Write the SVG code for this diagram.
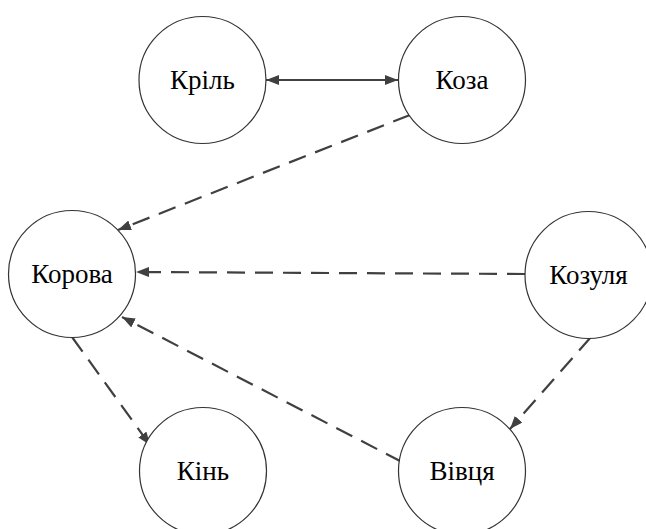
<svg xmlns="http://www.w3.org/2000/svg" width="646" height="529" viewBox="0 0 646 529">
<defs>
<style>
.node circle{fill:#fff;stroke:#333;stroke-width:1.2}
.node text{font-family:"Liberation Serif","Times New Roman",serif;font-size:27px;fill:#000;text-anchor:middle;dominant-baseline:central}
.edge{stroke:#404040;stroke-width:2.2;fill:none}
.dash{stroke-dasharray:18 10}
</style>
<marker id="ah" viewBox="0 0 13 10" refX="13" refY="5" markerWidth="13" markerHeight="10" markerUnits="userSpaceOnUse" orient="auto-start-reverse">
<path d="M0,0 L13,5 L0,10 Z" fill="#404040"/>
</marker>
</defs>
<g id="connectors">
<line class="edge" x1="266" y1="80" x2="398" y2="80" marker-start="url(#ah)" marker-end="url(#ah)"/>
<line class="edge dash" x1="410" y1="115" x2="118" y2="230" marker-end="url(#ah)"/>
<line class="edge dash" x1="525" y1="274" x2="136" y2="272" marker-end="url(#ah)"/>
<line class="edge dash" x1="402" y1="462" x2="122" y2="317" marker-end="url(#ah)"/>
<line class="edge dash" x1="72" y1="337" x2="150" y2="445" marker-end="url(#ah)"/>
<line class="edge dash" x1="591" y1="337" x2="510" y2="429" marker-end="url(#ah)"/>
</g>
<g id="node-kril" class="node"><circle cx="202.5" cy="80" r="63.5"/><text x="202.5" y="80">Кріль</text></g>
<g id="node-koza" class="node"><circle cx="462" cy="80" r="63.5"/><text x="462" y="80">Коза</text></g>
<g id="node-korova" class="node"><circle cx="72" cy="274" r="63.5"/><text x="72" y="274">Корова</text></g>
<g id="node-kozulia" class="node"><circle cx="588.5" cy="275" r="63.5"/><text x="588.5" y="275">Козуля</text></g>
<g id="node-kin" class="node"><circle cx="203" cy="471" r="63.5"/><text x="203" y="471">Кінь</text></g>
<g id="node-vivtsia" class="node"><circle cx="462" cy="471" r="63.5"/><text x="462" y="471">Вівця</text></g>
</svg>
